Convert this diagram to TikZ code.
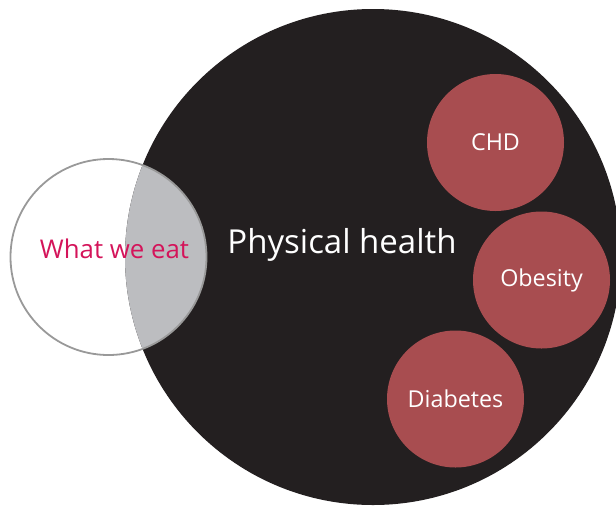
\documentclass[tikz,border=0pt]{standalone}
\usepackage{fontspec}
\setmainfont{Open Sans}
\definecolor{blk}{HTML}{231F20}
\definecolor{ovl}{HTML}{BCBDC0}
\definecolor{ring}{HTML}{999999}
\definecolor{dis}{HTML}{A84D50}
\definecolor{eat}{HTML}{D4145A}
\begin{document}
\begin{tikzpicture}[x=1pt,y=-1pt,
  disease/.style={circle,fill=dis,minimum size=137pt,inner sep=0pt,text=white,font=\fontsize{23.3}{26}\selectfont}]
\useasboundingbox (0,0) rectangle (616,507);
\begin{scope}
\clip (0,0) rectangle (616,507);
\fill[blk] (373,257) circle[radius=248];
\begin{scope}
\clip (373,257) circle[radius=248];
\fill[ovl] (108.5,257) circle[radius=98];
\end{scope}
\draw[ring,line width=1.8pt] (108.5,257) circle[radius=98];
\end{scope}
\node[inner sep=0pt,text=eat,font=\fontsize{25.8}{30}\selectfont] (eat) at (114.5,249) {What we eat};
\node[inner sep=0pt,text=white,font=\fontsize{33}{38}\selectfont] (ph) at (342,245) {Physical health};
\node[disease] (chd) at (495.5,142.5) {CHD};
\node[disease] (ob) at (541.5,280) {Obesity};
\node[disease] (dia) at (455.5,399) {Diabetes};
\end{tikzpicture}
\end{document}
